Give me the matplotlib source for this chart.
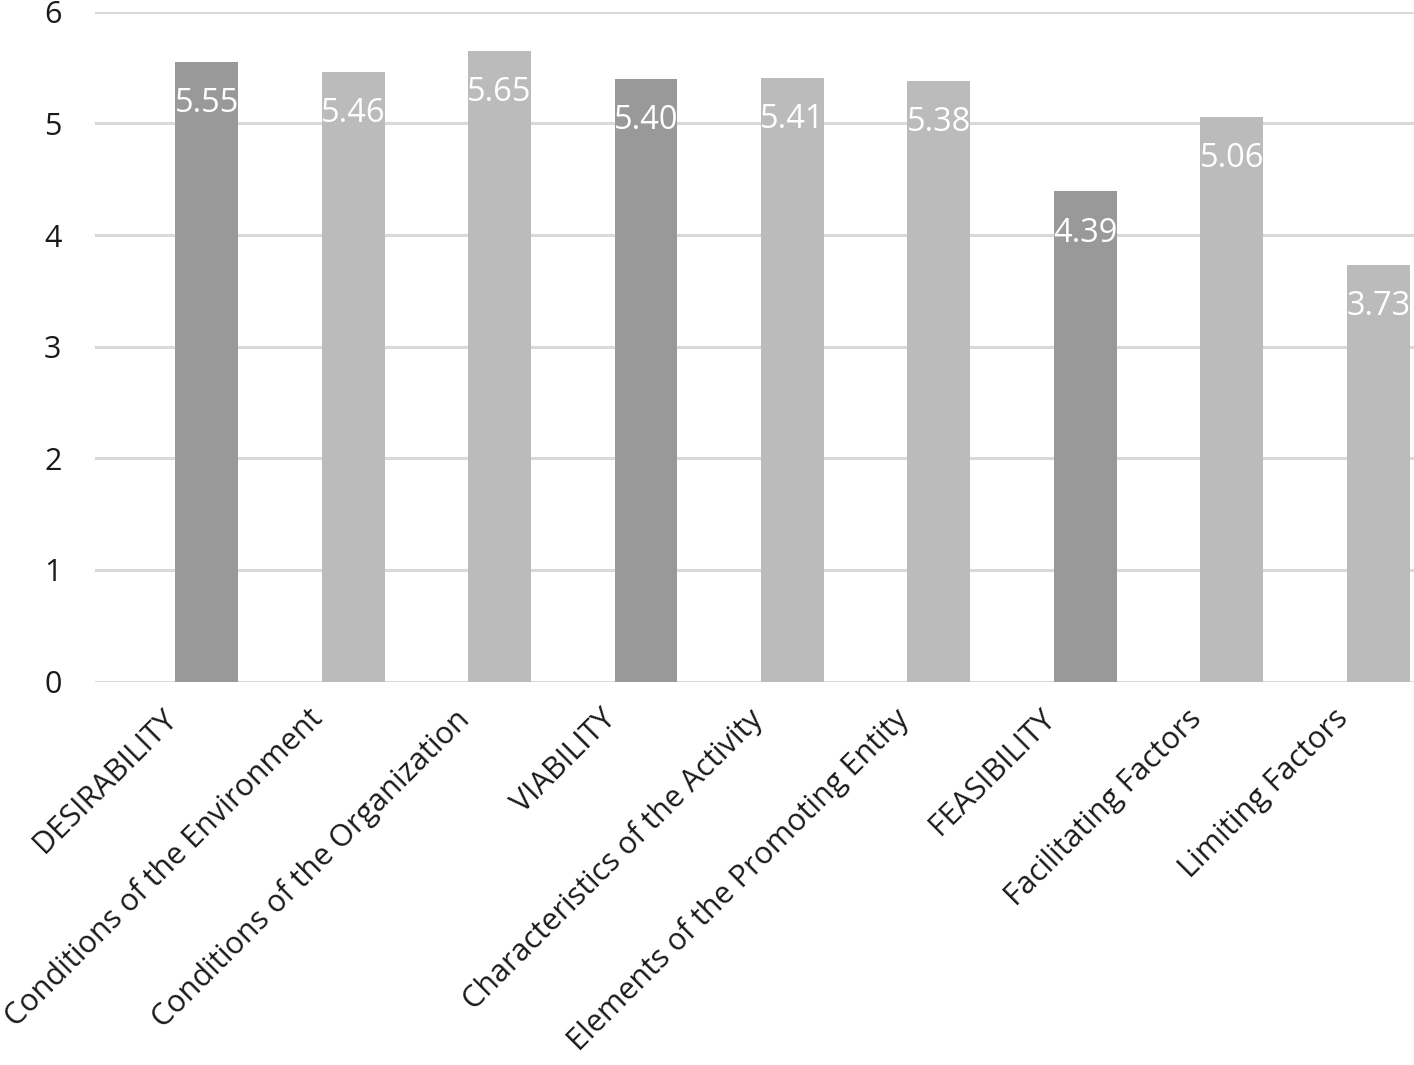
import matplotlib
matplotlib.use("Agg")
import matplotlib.pyplot as plt
import matplotlib.transforms as mtransforms
import numpy as np

categorias = ["DESIRABILITY", "Conditions of the Environment", "Conditions of the Organization",
              "VIABILITY", "Characteristics of the Activity", "Elements of the Promoting Entity",
              "FEASIBILITY", "Facilitating Factors", "Limiting Factors"]
valores = [5.55, 5.46, 5.65, 5.40, 5.41, 5.38, 4.39, 5.06, 3.73]
principales = [True, False, False, True, False, False, True, False, False]

plt.rcParams['font.family'] = ['Open Sans', 'DejaVu Sans']

fig = plt.figure(figsize=(14.14, 10.65), dpi=100)
ax = fig.add_axes([0.067, 0.36, 0.933, 0.629])

x = np.arange(len(categorias))
colores = ["#999999" if p else "#bbbbbb" for p in principales]
barras = ax.bar(x, valores, width=0.43, color=colores, zorder=3)

for b, v in zip(barras, valores):
    ax.annotate(f"{v:.2f}", (b.get_x() + b.get_width() / 2, v), xytext=(0, -30),
                textcoords="offset points", ha="center", va="center",
                color="white", fontsize=23.5, zorder=4)

# el grafico original esta cortado por la derecha
ax.set_xlim(-0.765, 8.245)
ax.set_ylim(0, 6)
ax.set_yticks(range(0, 7))
ax.yaxis.grid(True, color="#d9d9d9", linewidth=2.2, zorder=0)
ax.set_axisbelow(True)
for s in ax.spines.values():
    s.set_visible(False)
ax.tick_params(axis="both", length=0, labelsize=22, colors="#1a1a1a")
ax.tick_params(axis="y", pad=24)
ax.set_xticks(x)
ax.set_xticklabels(categorias, rotation=45, ha="right", rotation_mode="anchor")
ax.tick_params(axis="x", pad=16)
desplaz = mtransforms.ScaledTranslation(-45 / 100, 0, fig.dpi_scale_trans)
for lab in ax.get_xticklabels():
    lab.set_transform(lab.get_transform() + desplaz)

fig.savefig("out.png", dpi=100)
